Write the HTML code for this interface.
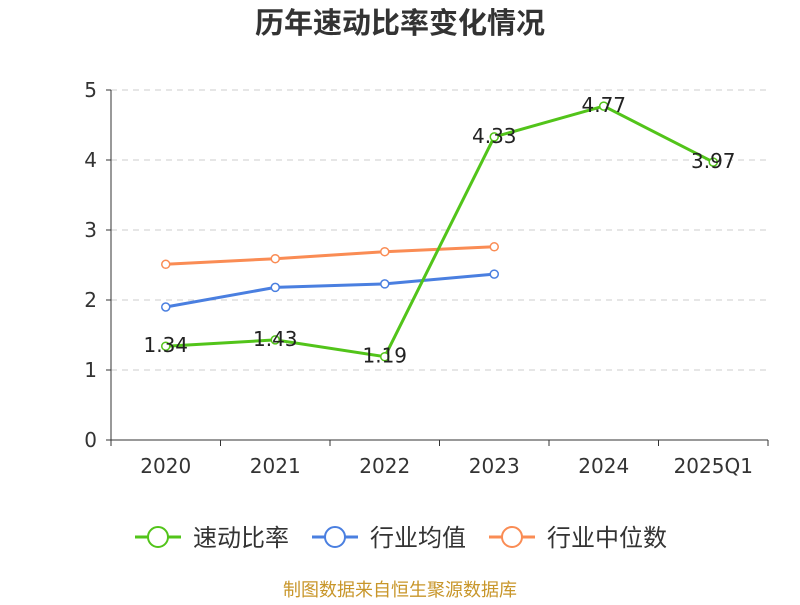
<!DOCTYPE html>
<html><head><meta charset="utf-8"><style>
body{margin:0;background:#fff;}
svg text{font-family:"DejaVu Sans","Noto Sans CJK SC",sans-serif;}
</style></head><body>
<svg id="chart" width="800" height="600" xmlns="http://www.w3.org/2000/svg">
<text x="400" y="33" text-anchor="middle" font-size="29" font-weight="bold" fill="#333">历年速动比率变化情况</text>
<g id="grid"></g><g id="axes"></g><g id="series"></g><g id="legend"></g>
<text x="400" y="596" text-anchor="middle" font-size="18" fill="#c8962a">制图数据来自恒生聚源数据库</text>
</svg>
<script>
const categories=["2020","2021","2022","2023","2024","2025Q1"];
const quickRatio=[1.34,1.43,1.19,4.33,4.77,3.97];
const industryAvg=[1.90,2.18,2.23,2.37];
const industryMedian=[2.51,2.59,2.69,2.76];
const yTicks=[0,1,2,3,4,5];
const NS="http://www.w3.org/2000/svg";
const L=111,R=768,T=90,B=440,yMax=5;
const bw=(R-L)/categories.length;
const xS=i=>L+bw*(i+0.5);
const yS=v=>B-(v/yMax)*(B-T);
function mk(tag,attrs,parent,txt){const e=document.createElementNS(NS,tag);for(const k in attrs)e.setAttribute(k,attrs[k]);if(txt!==undefined)e.textContent=txt;parent.appendChild(e);return e;}
const grid=document.getElementById('grid'),axes=document.getElementById('axes'),series=document.getElementById('series'),legend=document.getElementById('legend');
yTicks.forEach(t=>{
 if(t>0){const g=mk('line',{x1:L,x2:R,y1:yS(t),y2:yS(t),stroke:'#ccc','stroke-dasharray':'6,5'},grid);
 
 }
 const tk=mk('line',{x1:L-5,x2:L,y1:yS(t),y2:yS(t),stroke:'#333'},axes);
 
 
 const lb=mk('text',{x:L-14,y:yS(t)+7,'text-anchor':'end','font-size':20,fill:'#333'},axes,t);
 
 
});
const ya=mk('line',{x1:L,x2:L,y1:T,y2:B,stroke:'#333'},axes);


const xa=mk('line',{x1:L,x2:R,y1:B,y2:B,stroke:'#333'},axes);


for(let i=0;i<=categories.length;i++){const t=mk('line',{x1:L+bw*i,x2:L+bw*i,y1:B,y2:B+6,stroke:'#333'},axes);
 
 }
categories.forEach((c,i)=>{const t=mk('text',{x:xS(i),y:B+33,'text-anchor':'middle','font-size':20,fill:'#333'},axes,c);
 
 });
function drawSeries(vals,color,name,labels){
 const g=mk('g',{},series);
 
 
 const p=mk('polyline',{points:vals.map((v,i)=>xS(i)+','+yS(v)).join(' '),fill:'none',stroke:color,'stroke-width':3},g);
 
 
 vals.forEach((v,i)=>{const c=mk('circle',{cx:xS(i),cy:yS(v),r:4,fill:'#fff',stroke:color,'stroke-width':1.5},g);
  
  
  if(labels){const t=mk('text',{x:xS(i),y:yS(v)+6,'text-anchor':'middle','font-size':20,fill:'#222'},g,v.toFixed(2));
  
  }});
}
drawSeries(industryMedian,'#fa8c54','industry-median',false);
drawSeries(industryAvg,'#4a7fe0','industry-average',false);
drawSeries(quickRatio,'#52c41a','quick-ratio',true);
const leg=[['速动比率','#52c41a',135],['行业均值','#4a7fe0',312],['行业中位数','#fa8c54',489]];
leg.forEach(([n,c,x])=>{const g=mk('g',{},legend);
 
 
 mk('line',{x1:x,x2:x+46,y1:537,y2:537,stroke:c,'stroke-width':3},g);
 mk('circle',{cx:x+23,cy:537,r:10,fill:'#fff',stroke:c,'stroke-width':2},g);
 mk('text',{x:x+58,y:546,'font-size':24,fill:'#333'},g,n);});
</script>
</body></html>
